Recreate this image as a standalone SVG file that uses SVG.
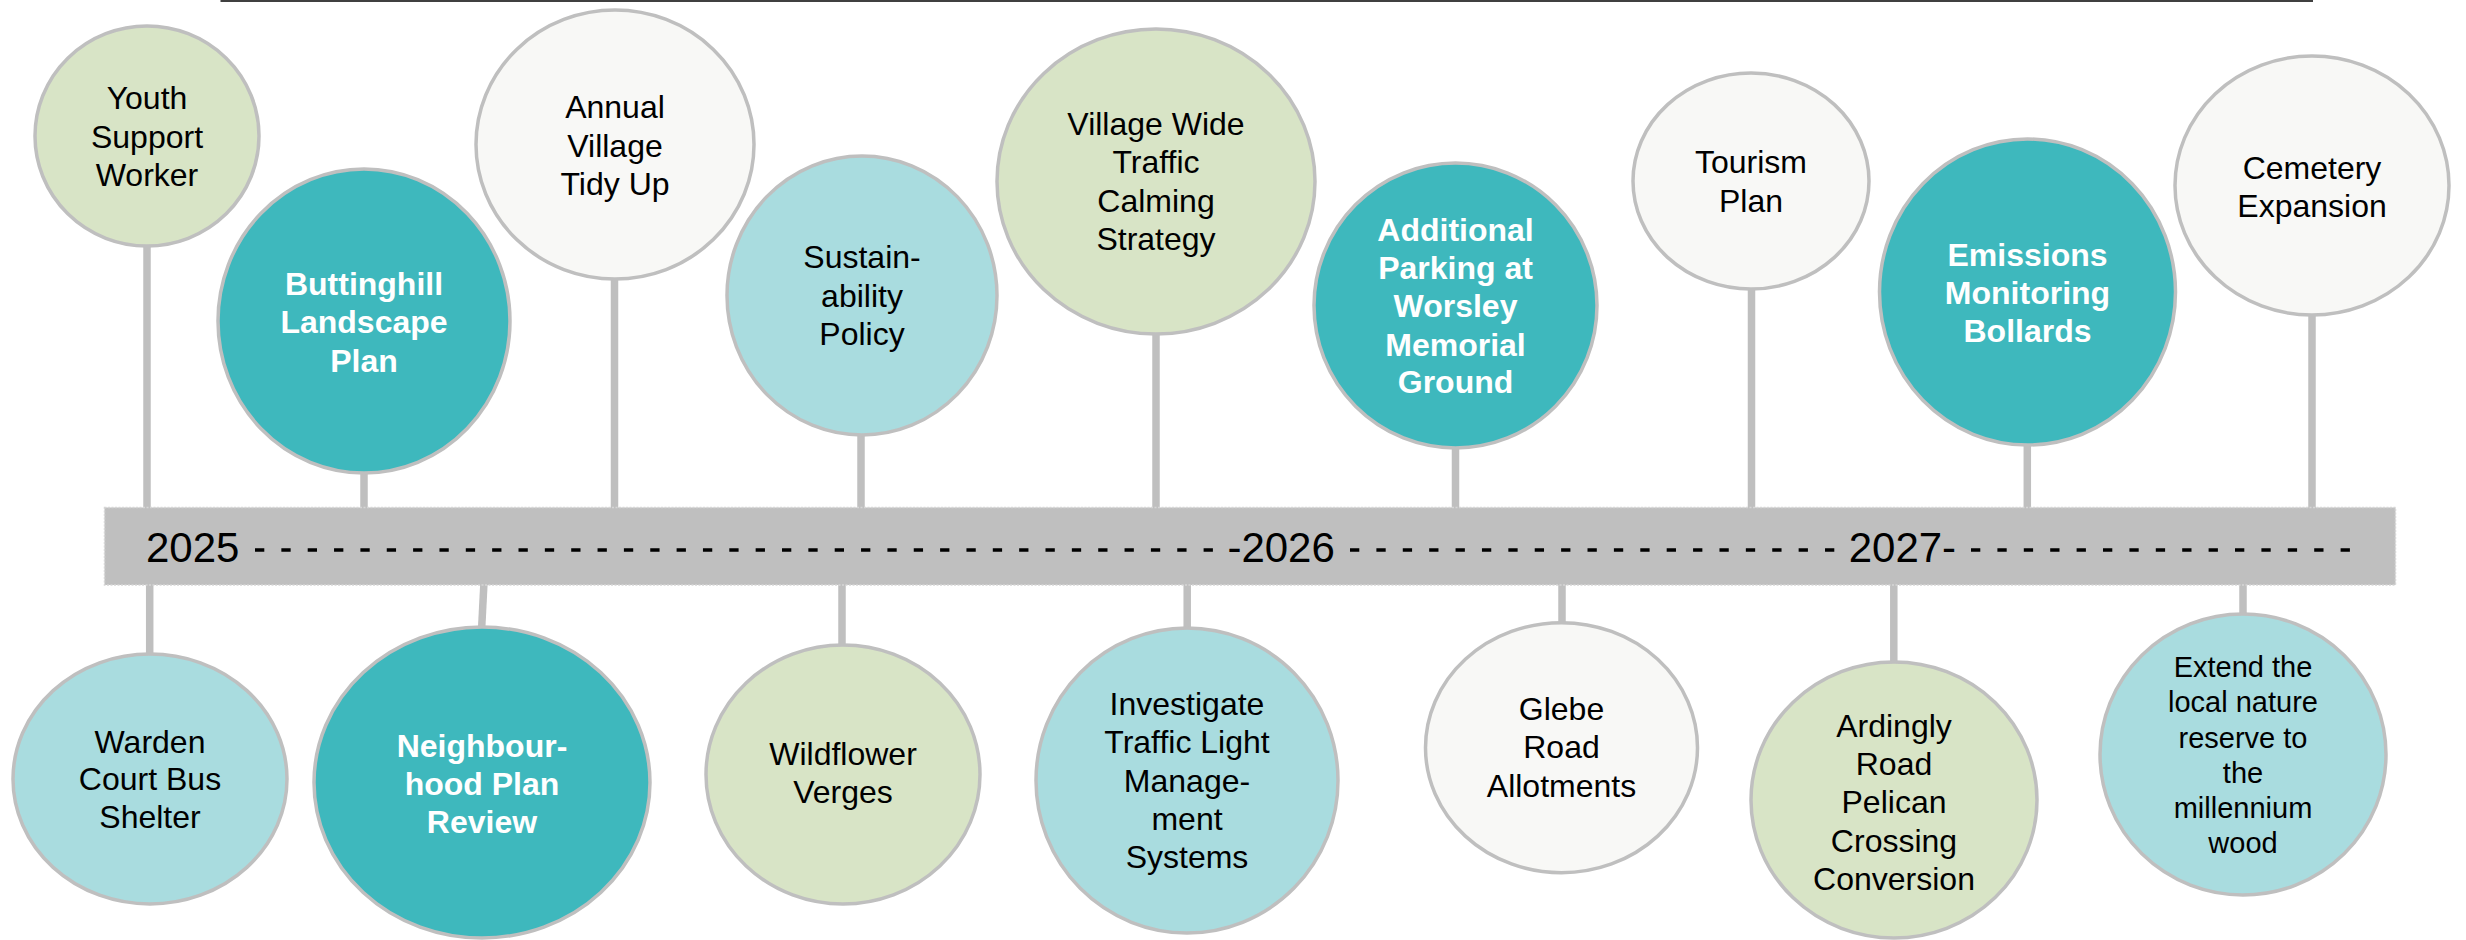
<svg xmlns="http://www.w3.org/2000/svg" width="2466" height="940" viewBox="0 0 2466 940">
<style>
.stem{stroke:#bfbfbf;stroke-width:7.5;fill:none}
.n{stroke:#bfbfbf;stroke-width:3.5}
.g{fill:#d8e4c6}.t{fill:#3eb8bd}.b{fill:#a9dcdf}.w{fill:#f8f8f6}
text{font-family:"Liberation Sans",Arial,sans-serif;font-size:32px;text-anchor:middle;fill:#000}
.wt{fill:#fff;font-weight:bold}
.yr{font-size:42px;text-anchor:start}
.dash{stroke:#000;stroke-width:3.6;fill:none}
</style>
<rect width="2466" height="940" fill="#fff"/>
<line x1="220.5" y1="1" x2="2313" y2="1" stroke="#404040" stroke-width="2.2"/>
<g id="connectors">
<line class="stem" x1="147" y1="240" x2="147" y2="510"/>
<line class="stem" x1="364" y1="470" x2="364" y2="510"/>
<line class="stem" x1="614.5" y1="275" x2="614.5" y2="510"/>
<line class="stem" x1="861" y1="430" x2="861" y2="510"/>
<line class="stem" x1="1156" y1="330" x2="1156" y2="510"/>
<line class="stem" x1="1455.5" y1="444" x2="1455.5" y2="510"/>
<line class="stem" x1="1751.5" y1="289" x2="1751.5" y2="510"/>
<line class="stem" x1="2027.3" y1="441" x2="2027.3" y2="510"/>
<line class="stem" x1="2312" y1="311" x2="2312" y2="510"/>
<line class="stem" x1="149.7" y1="582" x2="149.7" y2="658"/>
<line class="stem" x1="484" y1="582" x2="481.5" y2="631"/>
<line class="stem" x1="842" y1="582" x2="842" y2="649"/>
<line class="stem" x1="1187.2" y1="582" x2="1187.2" y2="632"/>
<line class="stem" x1="1562" y1="582" x2="1562" y2="627"/>
<line class="stem" x1="1893.8" y1="582" x2="1893.8" y2="666"/>
<line class="stem" x1="2243" y1="582" x2="2243" y2="618"/>
</g>
<g id="timeline">
<rect x="104.5" y="507.5" width="2291" height="77.5" fill="#bfbfbf" stroke="#d6d6d6" stroke-width="1.5" stroke-dasharray="2 1.5"/>
<text class="yr" x="146" y="561.7">2025</text>
<line class="dash" x1="255" y1="550" x2="1213" y2="550" stroke-dasharray="9.3 17.05"/>
<text class="yr" x="1227.4" y="561.7">-2026</text>
<line class="dash" x1="1350" y1="550" x2="1834.3" y2="550" stroke-dasharray="9.3 17.09"/>
<text class="yr" x="1848.7" y="561.7">2027-</text>
<line class="dash" x1="1971" y1="550" x2="2351" y2="550" stroke-dasharray="9.3 17.1"/>
</g>
<g id="youth-support-worker"><ellipse class="n g" cx="147" cy="136" rx="112" ry="110"/>
<text x="147" y="109">Youth</text><text x="147" y="148">Support</text><text x="147" y="186">Worker</text></g>
<g id="buttinghill-landscape-plan"><ellipse class="n t" cx="364" cy="321" rx="146" ry="152"/>
<text class="wt" x="364" y="295">Buttinghill</text><text class="wt" x="364" y="333">Landscape</text><text class="wt" x="364" y="372">Plan</text></g>
<g id="annual-village-tidy-up"><ellipse class="n w" cx="615" cy="144.5" rx="139" ry="134.5"/>
<text x="615" y="118">Annual</text><text x="615" y="157">Village</text><text x="615" y="195">Tidy Up</text></g>
<g id="sustainability-policy"><ellipse class="n b" cx="862" cy="295.5" rx="135" ry="139.5"/>
<text x="862" y="268">Sustain-</text><text x="862" y="307">ability</text><text x="862" y="345">Policy</text></g>
<g id="village-wide-traffic-calming"><ellipse class="n g" cx="1156" cy="181.5" rx="159" ry="152.5"/>
<text x="1156" y="135">Village Wide</text><text x="1156" y="173">Traffic</text><text x="1156" y="212">Calming</text><text x="1156" y="250">Strategy</text></g>
<g id="additional-parking"><ellipse class="n t" cx="1455.5" cy="305.5" rx="141.5" ry="142.5"/>
<text class="wt" x="1455.5" y="241">Additional</text><text class="wt" x="1455.5" y="279">Parking at</text><text class="wt" x="1455.5" y="317">Worsley</text><text class="wt" x="1455.5" y="356">Memorial</text><text class="wt" x="1455.5" y="393">Ground</text></g>
<g id="tourism-plan"><ellipse class="n w" cx="1751" cy="181" rx="118" ry="108"/>
<text x="1751" y="173">Tourism</text><text x="1751" y="212">Plan</text></g>
<g id="emissions-monitoring-bollards"><ellipse class="n t" cx="2027.5" cy="292" rx="148" ry="153"/>
<text class="wt" x="2027.5" y="266">Emissions</text><text class="wt" x="2027.5" y="304">Monitoring</text><text class="wt" x="2027.5" y="342">Bollards</text></g>
<g id="cemetery-expansion"><ellipse class="n w" cx="2312" cy="185.5" rx="137" ry="129.5"/>
<text x="2312" y="179">Cemetery</text><text x="2312" y="217">Expansion</text></g>
<g id="warden-court-bus-shelter"><ellipse class="n b" cx="150" cy="779" rx="137" ry="125"/>
<text x="150" y="752.7">Warden</text><text x="150" y="790">Court Bus</text><text x="150" y="828">Shelter</text></g>
<g id="neighbourhood-plan-review"><ellipse class="n t" cx="482" cy="782.5" rx="168" ry="155.5"/>
<text class="wt" x="482" y="756.7">Neighbour-</text><text class="wt" x="482" y="795">hood Plan</text><text class="wt" x="482" y="832.7">Review</text></g>
<g id="wildflower-verges"><ellipse class="n g" cx="843" cy="774.5" rx="137" ry="129.5"/>
<text x="843" y="765">Wildflower</text><text x="843" y="803">Verges</text></g>
<g id="investigate-traffic-light"><ellipse class="n b" cx="1187" cy="780.5" rx="151" ry="152.5"/>
<text x="1187" y="715">Investigate</text><text x="1187" y="753">Traffic Light</text><text x="1187" y="792">Manage-</text><text x="1187" y="830">ment</text><text x="1187" y="868">Systems</text></g>
<g id="glebe-road-allotments"><ellipse class="n w" cx="1561.5" cy="747.7" rx="136" ry="125"/>
<text x="1561.5" y="720">Glebe</text><text x="1561.5" y="758">Road</text><text x="1561.5" y="797">Allotments</text></g>
<g id="ardingly-road-pelican"><ellipse class="n g" cx="1894" cy="800" rx="143" ry="138"/>
<text x="1894" y="736.7">Ardingly</text><text x="1894" y="775">Road</text><text x="1894" y="813">Pelican</text><text x="1894" y="851.7">Crossing</text><text x="1894" y="890">Conversion</text></g>
<g id="extend-nature-reserve"><ellipse class="n b" cx="2243" cy="754.5" rx="143" ry="140.5"/>
<g style="font-size:29px"><text x="2243" y="676.7" style="font-size:29px">Extend the</text><text x="2243" y="712" style="font-size:29px">local nature</text><text x="2243" y="747.7" style="font-size:29px">reserve to</text><text x="2243" y="782.7" style="font-size:29px">the</text><text x="2243" y="818" style="font-size:29px">millennium</text><text x="2243" y="853" style="font-size:29px">wood</text></g></g>
</svg>
